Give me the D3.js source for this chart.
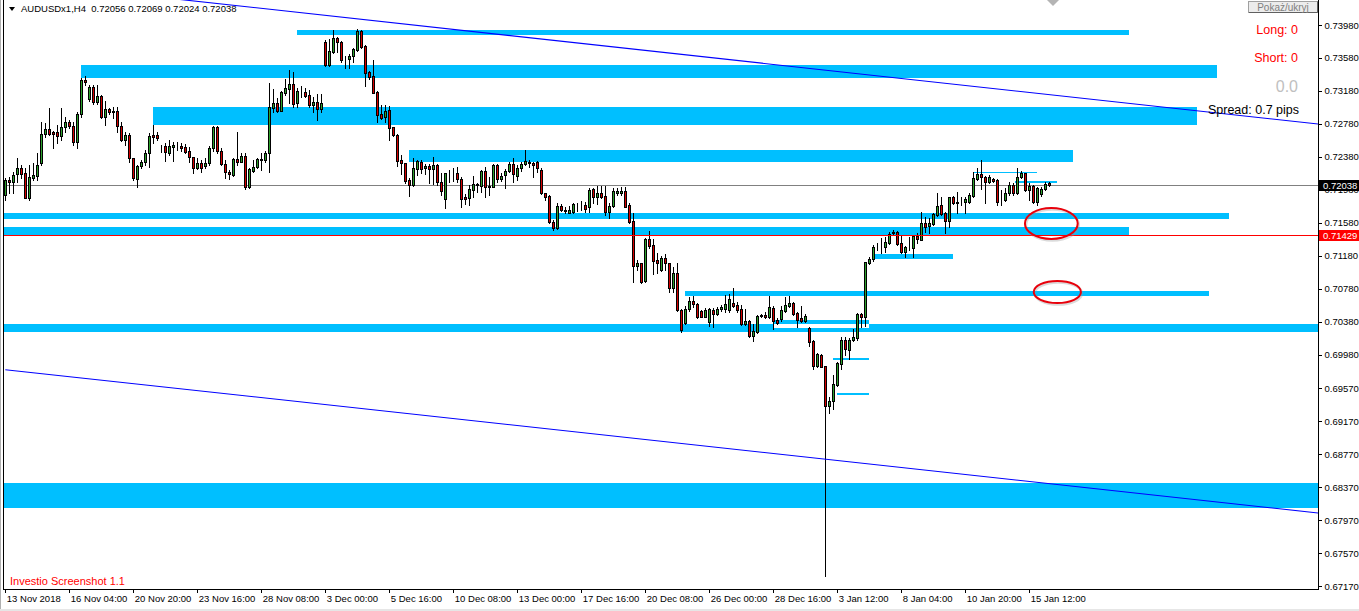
<!DOCTYPE html>
<html><head><meta charset="utf-8">
<script src="https://cdn.jsdelivr.net/npm/d3@7"></script>
<style>
body{margin:0;background:#fff;overflow:hidden}
svg{display:block}
text{font-family:"Liberation Sans",Arial,sans-serif}
</style>
</head><body>
<svg id="c" width="1359" height="611"></svg>
<script>
// ---------- DATA (AUDUSD H4, bars indexed from 13 Nov 2018 12:00) ----------
const open=[0.71916,0.72098,0.72070,0.72167,0.72240,0.72179,0.71876,0.72126,0.72151,0.72300,
0.72653,0.72713,0.72677,0.72677,0.72628,0.72738,0.72798,0.72750,0.72555,0.72895,
0.73308,0.73078,0.73227,0.73041,0.73118,0.72867,0.72956,0.72936,0.72936,0.72754,
0.72584,0.72644,0.72361,0.72110,0.72268,0.72313,0.72430,0.72644,0.72644,0.72503,
0.72507,0.72430,0.72503,0.72515,0.72511,0.72495,0.72450,0.72373,0.72248,0.72309,
0.72268,0.72309,0.72483,0.72738,0.72454,0.72288,0.72199,0.72159,0.72353,0.72321,
0.72390,0.72009,0.72211,0.72252,0.72349,0.72341,0.72430,0.72968,0.73029,0.72936,
0.73158,0.73203,0.73260,0.73037,0.73171,0.73163,0.73130,0.73009,0.73041,0.72956,
0.73778,0.73494,0.73648,0.73818,0.73770,0.73567,0.73563,0.73604,0.73676,0.73907,
0.73725,0.73405,0.73361,0.73171,0.72899,0.72867,0.72948,0.72738,0.72644,0.72341,
0.72300,0.72098,0.72037,0.72232,0.72313,0.72240,0.72268,0.72228,0.72280,0.72078,
0.71863,0.72187,0.72183,0.72187,0.72106,0.71888,0.71876,0.71977,0.72046,0.72029,
0.72207,0.72009,0.72017,0.72280,0.72110,0.72159,0.72207,0.72288,0.72151,0.72240,
0.72288,0.72321,0.72309,0.72313,0.72220,0.71936,0.71904,0.71585,0.71511,0.71782,
0.71730,0.71702,0.71706,0.71803,0.71795,0.71795,0.71774,0.71985,0.71888,0.71936,
0.71904,0.71706,0.71782,0.71936,0.71936,0.71965,0.71795,0.71600,0.71058,0.71086,
0.70876,0.71382,0.71310,0.71127,0.71005,0.71147,0.71086,0.70783,0.70965,0.70520,
0.70366,0.70528,0.70629,0.70593,0.70508,0.70439,0.70378,0.70520,0.70471,0.70528,
0.70528,0.70520,0.70609,0.70581,0.70528,0.70346,0.70386,0.70208,0.70257,0.70451,
0.70459,0.70431,0.70548,0.70398,0.70406,0.70512,0.70568,0.70601,0.70479,0.70427,
0.70390,0.70305,0.70147,0.69840,0.69973,0.69840,0.69358,0.69419,0.69609,0.69860,
0.70156,0.70034,0.70156,0.70176,0.70471,0.70431,0.71094,0.71139,0.71281,0.71289,
0.71281,0.71337,0.71459,0.71467,0.71329,0.71220,0.71281,0.71269,0.71418,0.71370,
0.71572,0.71540,0.71564,0.71677,0.71795,0.71693,0.71604,0.71888,0.71827,0.71835,
0.71827,0.71835,0.71908,0.72110,0.72171,0.72139,0.72070,0.72106,0.72098,0.71855,
0.71855,0.71936,0.72037,0.71936,0.72131,0.72179,0.71977,0.72025,0.71835,0.71928,
0.71985,0.72056];
const high=[0.72118,0.72139,0.72199,0.72361,0.72280,0.72240,0.72280,0.72300,0.72422,0.72806,
0.72786,0.72968,0.72693,0.72766,0.72968,0.72867,0.72827,0.72806,0.72928,0.73341,
0.73361,0.73252,0.73252,0.73252,0.73130,0.73057,0.72968,0.72988,0.72988,0.72806,
0.72685,0.72665,0.72369,0.72280,0.72341,0.72462,0.72665,0.72766,0.72685,0.72523,
0.72543,0.72584,0.72564,0.72564,0.72543,0.72531,0.72503,0.72381,0.72361,0.72341,
0.72361,0.72515,0.72754,0.72754,0.72483,0.72341,0.72220,0.72361,0.72677,0.72422,
0.72430,0.72240,0.72341,0.72361,0.72422,0.72450,0.73272,0.73203,0.73098,0.73179,
0.73324,0.73434,0.73405,0.73219,0.73239,0.73219,0.73191,0.73110,0.73138,0.73138,
0.73798,0.73810,0.73919,0.73838,0.73786,0.73608,0.73624,0.73697,0.73931,0.73919,
0.73737,0.73422,0.73555,0.73179,0.73009,0.73009,0.72997,0.72746,0.72653,0.72402,
0.72309,0.72126,0.72361,0.72341,0.72341,0.72288,0.72288,0.72381,0.72288,0.72179,
0.72187,0.72220,0.72240,0.72260,0.72139,0.71924,0.72037,0.72151,0.72058,0.72220,
0.72260,0.72139,0.72288,0.72288,0.72179,0.72232,0.72321,0.72369,0.72280,0.72313,
0.72462,0.72341,0.72321,0.72329,0.72240,0.71944,0.71916,0.71613,0.71815,0.71807,
0.71766,0.71782,0.71823,0.71823,0.71847,0.71835,0.71997,0.71997,0.72025,0.72025,
0.72025,0.71815,0.71997,0.71997,0.72009,0.72017,0.71815,0.71693,0.71127,0.71094,
0.71398,0.71479,0.71382,0.71216,0.71175,0.71200,0.71094,0.71046,0.71086,0.70528,
0.70568,0.70682,0.70690,0.70609,0.70520,0.70540,0.70540,0.70540,0.70560,0.70581,
0.70702,0.70714,0.70783,0.70621,0.70581,0.70528,0.70398,0.70350,0.70459,0.70471,
0.70500,0.70690,0.70568,0.70419,0.70568,0.70682,0.70694,0.70621,0.70500,0.70568,
0.70467,0.70317,0.70156,0.70002,0.69981,0.69840,0.69468,0.69731,0.69884,0.70196,
0.70188,0.70176,0.70285,0.70487,0.70487,0.71107,0.71167,0.71309,0.71329,0.71390,
0.71402,0.71471,0.71491,0.71483,0.71430,0.71297,0.71410,0.71430,0.71451,0.71706,
0.71653,0.71633,0.71702,0.71936,0.71896,0.71714,0.71896,0.71904,0.71956,0.71896,
0.71896,0.71944,0.72199,0.72240,0.72341,0.72147,0.72159,0.72118,0.72106,0.71977,
0.71997,0.72078,0.72066,0.72240,0.72211,0.72187,0.72058,0.72037,0.72009,0.72009,
0.72078,0.72069];
const low=[0.71855,0.71936,0.71936,0.72078,0.72118,0.71876,0.71855,0.72098,0.72098,0.72280,
0.72624,0.72644,0.72491,0.72543,0.72584,0.72685,0.72725,0.72523,0.72491,0.72867,
0.73252,0.73057,0.73021,0.73017,0.72855,0.72766,0.72895,0.72847,0.72677,0.72572,
0.72523,0.72321,0.72098,0.72017,0.72240,0.72280,0.72260,0.72543,0.72584,0.72442,
0.72329,0.72402,0.72333,0.72462,0.72450,0.72422,0.72321,0.72179,0.72228,0.72199,
0.72248,0.72280,0.72450,0.72422,0.72280,0.72118,0.72110,0.72151,0.72280,0.72313,
0.71989,0.71997,0.72199,0.72240,0.72220,0.72313,0.72199,0.72920,0.72920,0.72936,
0.73130,0.73029,0.72988,0.72980,0.73110,0.73110,0.72988,0.72928,0.72827,0.72920,
0.73486,0.73486,0.73636,0.73648,0.73527,0.73454,0.73462,0.73527,0.73664,0.73705,
0.73243,0.73324,0.73150,0.72806,0.72839,0.72806,0.72584,0.72636,0.72272,0.72167,
0.72058,0.71908,0.72029,0.72159,0.72179,0.72167,0.72058,0.72046,0.72037,0.71916,
0.71762,0.72078,0.72086,0.72078,0.71774,0.71803,0.71795,0.71896,0.71956,0.71956,
0.71896,0.71916,0.72009,0.72078,0.72086,0.72005,0.72199,0.72078,0.72098,0.72211,
0.72280,0.72260,0.72139,0.72199,0.71928,0.71855,0.71572,0.71491,0.71503,0.71726,
0.71693,0.71693,0.71702,0.71726,0.71734,0.71714,0.71714,0.71823,0.71807,0.71876,
0.71674,0.71641,0.71774,0.71916,0.71916,0.71766,0.71580,0.70864,0.71005,0.70844,
0.70864,0.71269,0.70953,0.70965,0.70997,0.71005,0.70734,0.70734,0.70512,0.70257,
0.70350,0.70512,0.70560,0.70419,0.70431,0.70431,0.70326,0.70317,0.70459,0.70512,
0.70500,0.70500,0.70560,0.70500,0.70338,0.70338,0.70188,0.70147,0.70245,0.70431,
0.70419,0.70419,0.70285,0.70350,0.70390,0.70500,0.70560,0.70459,0.70317,0.70378,
0.70378,0.70083,0.69803,0.69832,0.69824,0.67290,0.69265,0.69314,0.69597,0.69799,
0.69973,0.69921,0.70147,0.70156,0.70309,0.70326,0.71078,0.71115,0.71248,0.71208,
0.71228,0.71321,0.71430,0.71309,0.71208,0.71159,0.71248,0.71167,0.71329,0.71370,
0.71471,0.71451,0.71552,0.71661,0.71674,0.71451,0.71524,0.71807,0.71702,0.71795,
0.71702,0.71815,0.71896,0.72098,0.71985,0.71823,0.72058,0.72078,0.71795,0.71795,
0.71847,0.71916,0.71916,0.71928,0.72118,0.71969,0.71855,0.71823,0.71795,0.71904,
0.71977,0.72024];
const close=[0.72098,0.72070,0.72159,0.72240,0.72167,0.71884,0.72131,0.72159,0.72276,0.72653,
0.72713,0.72653,0.72653,0.72628,0.72738,0.72798,0.72758,0.72555,0.72895,0.73312,
0.73284,0.73227,0.73041,0.73118,0.72859,0.72956,0.72920,0.72920,0.72754,0.72584,
0.72644,0.72361,0.72118,0.72268,0.72317,0.72430,0.72632,0.72624,0.72604,0.72495,
0.72434,0.72507,0.72523,0.72511,0.72491,0.72442,0.72373,0.72248,0.72309,0.72240,
0.72309,0.72483,0.72746,0.72454,0.72288,0.72191,0.72171,0.72353,0.72321,0.72390,
0.72009,0.72232,0.72252,0.72349,0.72345,0.72430,0.72980,0.73029,0.72936,0.73163,
0.73211,0.73260,0.73021,0.73179,0.73167,0.73122,0.73009,0.73041,0.72956,0.73029,
0.73494,0.73664,0.73818,0.73770,0.73559,0.73563,0.73604,0.73685,0.73907,0.73717,
0.73401,0.73353,0.73158,0.72887,0.72855,0.72940,0.72734,0.72644,0.72333,0.72300,
0.72090,0.72037,0.72240,0.72329,0.72232,0.72268,0.72228,0.72280,0.72078,0.71969,
0.72179,0.72183,0.72187,0.72106,0.71863,0.71863,0.71985,0.72046,0.72037,0.72207,
0.72009,0.72025,0.72280,0.72110,0.72151,0.72207,0.72288,0.72167,0.72240,0.72296,
0.72329,0.72309,0.72280,0.72248,0.71944,0.71896,0.71585,0.71511,0.71782,0.71734,
0.71726,0.71734,0.71807,0.71807,0.71799,0.71742,0.71977,0.71888,0.71936,0.71896,
0.71706,0.71782,0.71969,0.71965,0.71965,0.71774,0.71592,0.71058,0.71086,0.70856,
0.71382,0.71297,0.71119,0.71086,0.71147,0.71086,0.70783,0.70965,0.70520,0.70277,
0.70528,0.70629,0.70589,0.70439,0.70439,0.70520,0.70528,0.70471,0.70532,0.70552,
0.70593,0.70653,0.70573,0.70520,0.70346,0.70386,0.70208,0.70269,0.70451,0.70455,
0.70431,0.70560,0.70390,0.70358,0.70520,0.70581,0.70601,0.70471,0.70398,0.70390,
0.70451,0.70135,0.69840,0.69986,0.69832,0.69354,0.69419,0.69621,0.69872,0.70156,
0.70042,0.70156,0.70188,0.70471,0.70431,0.71099,0.71139,0.71281,0.71289,0.71285,
0.71341,0.71443,0.71463,0.71321,0.71228,0.71281,0.71285,0.71418,0.71378,0.71572,
0.71532,0.71572,0.71685,0.71782,0.71685,0.71604,0.71888,0.71815,0.71823,0.71831,
0.71863,0.71916,0.72118,0.72171,0.72139,0.72078,0.72139,0.72090,0.71835,0.71851,
0.71944,0.72037,0.71936,0.72131,0.72179,0.71977,0.72025,0.71835,0.71997,0.71985,
0.72050,0.72038];

// price axis labels (right) and time labels (bottom, every 16 bars)
const priceTicks=[0.73980,0.73580,0.73180,0.72780,0.72380,0.71980,0.71580,0.71180,0.70780,0.70380,0.69980,0.69570,0.69170,0.68770,0.68370,0.67970,0.67570,0.67170];
const timeLabels=["13 Nov 2018","16 Nov 04:00","20 Nov 20:00","23 Nov 16:00","28 Nov 08:00","3 Dec 00:00","5 Dec 16:00","10 Dec 08:00","13 Dec 00:00","17 Dec 16:00","20 Dec 08:00","26 Dec 00:00","28 Dec 16:00","3 Jan 12:00","8 Jan 04:00","10 Jan 20:00","15 Jan 12:00"];
const timeTickBars=timeLabels.map((d,i)=>i*16);

// support / resistance zones: [startBar, endBar, topPrice, bottomPrice]
const zoneStart=[73,19,37,101,-2,-2,217.5,170,-2,192,207,208,-2,242,252.5];
const zoneEnd  =[281,303,298,267,306,281,237,301,335,216,216,216,335,258,263];
const zoneTop  =[0.73919,0.73494,0.72985,0.72463,0.71698,0.71528,0.71200,0.70751,0.70350,0.70393,0.69938,0.69513,0.68420,0.72195,0.72086];
const zoneBot  =[0.73859,0.73337,0.72766,0.72317,0.71625,0.71419,0.71139,0.70690,0.70253,0.70350,0.69913,0.69488,0.68116,0.72183,0.72062];
// gap cut out of the 0.703 zone
const gapZone=[192,216,0.70350,0.70305];

// channel trend lines: [bar0, price0, bar1, price1]
const trendA=[0,0.74522,330,0.72768];
const trendB=[0,0.69796,330,0.68047];

// horizontal levels
const bidPrice=0.72038, redLevel=0.71429;
// red marker ellipses: [centerBar, centerPrice, radiusBars, radiusPrice]
const ellA=[261.5,0.71570,6.6,0.00188];
const ellB=[263,0.70739,5.9,0.00134];

const header="AUDUSDx1,H4  0.72056 0.72069 0.72024 0.72038";

// ---------- DRAW ----------
const svg=d3.select("#c");
const L=4,R=1318,T=0,B=589;
const x=d3.scaleLinear().domain([0,261]).range([5.33,1049.33]);
const y=d3.scaleLinear().domain([0.67170,0.73980]).range([586,25]);
const ZONE="#00BFFF";

svg.append("defs").append("clipPath").attr("id","clip")
  .append("rect").attr("x",L).attr("y",T).attr("width",R-L).attr("height",B-T);
const g=svg.append("g").attr("clip-path","url(#clip)");

// zones
zoneStart.forEach((s,i)=>{
  const x0=Math.round(x(s)), x1=Math.round(x(zoneEnd[i]));
  const y0=Math.round(y(zoneTop[i])), y1=Math.round(y(zoneBot[i]));
  g.append("rect").attr("x",x0).attr("y",y0).attr("width",x1-x0).attr("height",Math.max(1,y1-y0))
   .attr("fill",ZONE).attr("shape-rendering","crispEdges");
});
{
  const x0=Math.round(x(gapZone[0])), x1=Math.round(x(gapZone[1]));
  const y0=Math.round(y(gapZone[2])), y1=Math.round(y(gapZone[3]));
  g.append("rect").attr("x",x0).attr("y",y0).attr("width",x1-x0).attr("height",y1-y0)
   .attr("fill","#fff").attr("shape-rendering","crispEdges");
}

// bid line
const yb=Math.round(y(bidPrice))+0.5;
g.append("line").attr("x1",L).attr("x2",R).attr("y1",yb).attr("y2",yb)
  .attr("stroke","#808080").attr("stroke-width",1).attr("shape-rendering","crispEdges");

// candles
const GREEN="#2ca02c", RED="#d40000";
for(let i=0;i<open.length;i++){
  const cx=Math.round(x(i));
  const o=open[i],c=close[i];
  const hi=Math.max(high[i],o,c), lo=Math.min(low[i],o,c);
  const yh=Math.round(y(hi)), yl=Math.round(y(lo));
  g.append("line").attr("x1",cx+0.5).attr("x2",cx+0.5).attr("y1",yh).attr("y2",yl+1)
    .attr("stroke","#000").attr("stroke-width",1).attr("shape-rendering","crispEdges");
  const yt=Math.round(y(Math.max(o,c))), ybm=Math.round(y(Math.min(o,c)));
  g.append("rect").attr("x",cx-0.5).attr("y",yt+0.5).attr("width",2).attr("height",Math.max(0,ybm-yt))
    .attr("fill",c>=o?GREEN:RED).attr("stroke","#000").attr("stroke-width",1)
    .attr("shape-rendering","crispEdges");
}

// red level
const yr=Math.round(y(redLevel))+0.5;
g.append("line").attr("x1",L).attr("x2",R).attr("y1",yr).attr("y2",yr)
  .attr("stroke","#ff0000").attr("stroke-width",1).attr("shape-rendering","crispEdges");

// trend lines
[trendA,trendB].forEach(t=>{
  g.append("line").attr("x1",x(t[0])).attr("y1",y(t[1])).attr("x2",x(t[2])).attr("y2",y(t[3]))
   .attr("stroke","#0000ff").attr("stroke-width",1.1);
});

// ellipses
[ellA,ellB].forEach(e=>{
  const cx=x(e[0]), cy=y(e[1]);
  const rx=x(e[0]+e[2])-cx, ry=y(e[1]-e[3])-cy;
  svg.append("ellipse").attr("cx",cx+1).attr("cy",cy+1.5).attr("rx",rx).attr("ry",ry)
    .attr("fill","none").attr("stroke","#999").attr("stroke-opacity",0.35).attr("stroke-width",2.5);
  svg.append("ellipse").attr("cx",cx).attr("cy",cy).attr("rx",rx).attr("ry",ry)
    .attr("fill","none").attr("stroke","#e8000b").attr("stroke-width",2);
});

// frame
svg.append("line").attr("x1",3.5).attr("x2",3.5).attr("y1",0).attr("y2",B+1).attr("stroke","#000");
svg.append("line").attr("x1",0.5).attr("x2",0.5).attr("y1",0).attr("y2",611).attr("stroke","#b0b0b0");
svg.append("line").attr("x1",3).attr("x2",R+1).attr("y1",B+0.5).attr("y2",B+0.5).attr("stroke","#000");
svg.append("line").attr("x1",R+0.5).attr("x2",R+0.5).attr("y1",0).attr("y2",B+1).attr("stroke","#000");
svg.append("rect").attr("x",0).attr("y",609).attr("width",1359).attr("height",2).attr("fill","#e6e6e6");

// right price axis
const ay=svg.append("g").attr("transform",`translate(${R+0.5},0)`)
  .call(d3.axisRight(y).tickValues(priceTicks).tickFormat(d=>d.toFixed(5)).tickSize(3).tickPadding(3));
ay.select(".domain").remove();
ay.selectAll("line").attr("stroke","#000").attr("shape-rendering","crispEdges");
ay.selectAll("text").attr("font-size","9.5px").attr("fill","#000").attr("font-family","Liberation Sans, Arial, sans-serif");

// bottom time axis
const ax=svg.append("g").attr("transform",`translate(0,${B+0.5})`)
  .call(d3.axisBottom(x).tickValues(timeTickBars).tickFormat((d,i)=>timeLabels[i]).tickSize(3).tickPadding(3));
ax.select(".domain").remove();
ax.selectAll("line").attr("stroke","#000").attr("shape-rendering","crispEdges");
ax.selectAll(".tick line").attr("transform","translate(-0.33,0)");
ax.selectAll("text").attr("font-size","9.5px").attr("fill","#000").attr("text-anchor","start")
  .attr("x",1).attr("y",12).attr("dy",0).attr("font-family","Liberation Sans, Arial, sans-serif");

// price boxes
function priceBox(p,bg){
  const yy=Math.round(y(p));
  svg.append("rect").attr("x",R+1).attr("y",yy-5).attr("width",40).attr("height",11).attr("fill",bg);
  svg.append("text").attr("x",R+5).attr("y",yy+3.5).attr("font-size","9.5px").attr("fill","#fff").text(p.toFixed(5));
}
priceBox(bidPrice,"#000");
priceBox(redLevel,"#ff0000");

// header
svg.append("path").attr("d","M9,7 L15,7 L12,11 Z").attr("fill","#000");
svg.append("text").attr("x",21).attr("y",12).attr("font-size","9.5px").attr("fill","#000")
  .attr("xml:space","preserve").style("white-space","pre").text(header);

// top shift marker
svg.append("path").attr("d","M1047,0 L1059,0 L1053,6 Z").attr("fill","#b4b4b4");

// button
svg.append("rect").attr("x",1248.5).attr("y",1.5).attr("width",69).attr("height",11).attr("fill","#ececec").attr("stroke","#a0a0a0");
svg.append("path").attr("d","M1249,12.5 H1317.5 V1.5").attr("fill","none").attr("stroke","#606060");
svg.append("text").attr("x",1283).attr("y",10.5).attr("text-anchor","middle").attr("font-size","10px").attr("fill","#808080").text("Pokaż/ukryj");

// info panel
svg.append("text").attr("x",1298).attr("y",34).attr("text-anchor","end").attr("font-size","12.5px").attr("fill","#ff0000").text("Long: 0");
svg.append("text").attr("x",1298).attr("y",62).attr("text-anchor","end").attr("font-size","12.5px").attr("fill","#ff0000").text("Short: 0");
svg.append("text").attr("x",1298).attr("y",92).attr("text-anchor","end").attr("font-size","16px").attr("fill","#c0c0c0").text("0.0");
svg.append("text").attr("x",1299).attr("y",114).attr("text-anchor","end").attr("font-size","12.5px").attr("fill","#000").text("Spread: 0.7 pips");

// watermark
svg.append("text").attr("x",10).attr("y",585).attr("font-size","11px").attr("fill","#ff0000").text("Investio Screenshot 1.1");
</script>
</body></html>
